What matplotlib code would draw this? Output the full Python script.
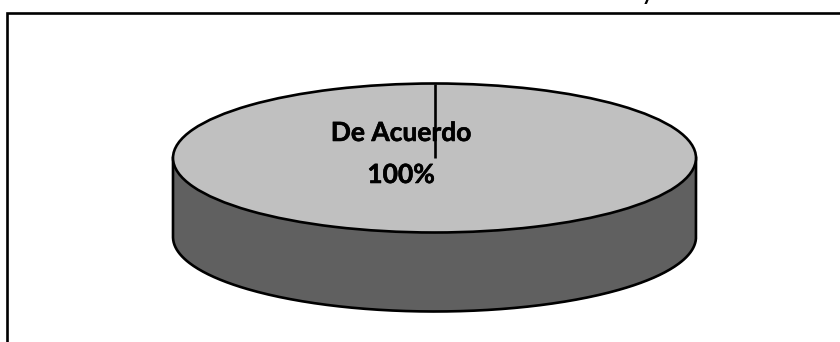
import numpy as np
import matplotlib
matplotlib.use("Agg")
import matplotlib.pyplot as plt
import matplotlib.patheffects as pe

categories = ["De Acuerdo"]
values = [100]
labels = ["De Acuerdo", "100%"]
top_color = "#c0c0c0"
side_color = "#606060"

W, H = 840, 342
fig = plt.figure(figsize=(W / 100, H / 100), dpi=100)
bg = fig.add_axes([0, 0, 1, 1])
bg.set_xlim(0, W); bg.set_ylim(H, 0); bg.axis("off")

# Chart frame (right and bottom edges are outside the crop)
bg.plot([6.5, 6.5, W + 5], [H + 5, 12.5, 12.5], color="black", lw=1.9,
        solid_joinstyle="miter", zorder=1)

cx, cy, rx, ry, depth = 434.5, 158.0, 261.5, 74.5, 79.0
lw = 1.9

# Side wall of the 3-D pie
t = np.linspace(0, np.pi, 300)
xs = cx + rx * np.cos(t)
ys = cy + ry * np.sin(t)
bg.fill_between(xs, ys, ys + depth, color=side_color, lw=0, zorder=2)
outline_x = np.concatenate([[cx + rx], xs, [cx - rx]])
outline_y = np.concatenate([[cy], ys + depth, [cy]])
bg.plot(outline_x, outline_y, color="black", lw=lw, zorder=3, solid_joinstyle="round")

# Top face: pie in an axes stretched to the ellipse
ax = fig.add_axes([(cx - rx) / W, 1 - (cy + ry) / H, 2 * rx / W, 2 * ry / H])
ax.patch.set_alpha(0)
wedges, _ = ax.pie(values, colors=[top_color], startangle=90, radius=1,
                   wedgeprops=dict(edgecolor="black", linewidth=lw, clip_on=False))
ax.set_aspect("auto")
ax.set_xlim(-1, 1); ax.set_ylim(-1, 1)
ax.plot([0, 0], [0, 1], color="black", lw=lw, clip_on=False, solid_capstyle="butt")
ax.axis("off")

ax2 = fig.add_axes([0, 0, 1, 1]); ax2.set_xlim(0, W); ax2.set_ylim(H, 0); ax2.axis("off")
for label, y in zip(labels, [133, 175]):
    ax2.text(401, y, label, fontsize=19, fontweight="bold", family="Lato", color="black",
             ha="center", va="center",
             path_effects=[pe.withStroke(linewidth=0.4, foreground="black")])
ax2.text(647, -5.5, "y", fontsize=15, fontweight="bold", family="Lato", color="black",
         ha="center", va="center")

fig.savefig("out.png", dpi=100, facecolor="white")
